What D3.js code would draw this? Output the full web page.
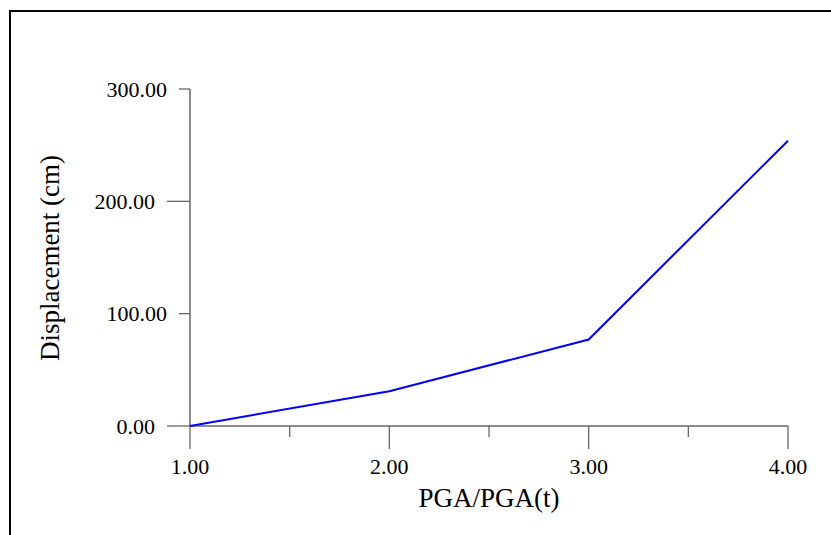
<!DOCTYPE html>
<html>
<head>
<meta charset="utf-8">
<script src="https://cdn.jsdelivr.net/npm/d3@7"></script>
<style>
  body { margin: 0; background: #fff; }
</style>
</head>
<body>
<div id="chart"></div>
<script>
// data
const pga = [1, 2, 3, 4];
const displacement = [0, 31, 77, 254];
const xTicks = [1, 2, 3, 4];
const xMinorTicks = [1.5, 2.5, 3.5];
const yTicks = [0, 200];
const yMinorTicks = [100, 300];
const yLabels = [0, 100, 200, 300];

const width = 831, height = 535;
const svg = d3.select('#chart').append('svg')
  .attr('width', width)
  .attr('height', height);

// frame (top and left edges only visible)
svg.append('path')
  .attr('d', `M10,${height} L10,11 L${width},11`)
  .attr('fill', 'none')
  .attr('stroke', '#000')
  .attr('stroke-width', 2);

const x = d3.scaleLinear().domain([1, 4]).range([190, 788]);
const y = d3.scaleLinear().domain([0, 300]).range([426, 89]);

const axisColor = '#666';
const font = '"Liberation Serif", "Times New Roman", serif';
const majorLen = 23, minorLen = 11;

// axis lines
svg.append('line')
  .attr('x1', x(1)).attr('x2', x(4))
  .attr('y1', y(0)).attr('y2', y(0))
  .attr('stroke', axisColor).attr('stroke-width', 1.5);
svg.append('line')
  .attr('x1', x(1)).attr('x2', x(1))
  .attr('y1', y(300)).attr('y2', y(0))
  .attr('stroke', axisColor).attr('stroke-width', 1.5);

// x ticks
svg.selectAll('.xmaj').data(xTicks).enter().append('line')
  .attr('x1', d => x(d)).attr('x2', d => x(d))
  .attr('y1', y(0)).attr('y2', y(0) + majorLen)
  .attr('stroke', axisColor).attr('stroke-width', 1.3);
svg.selectAll('.xmin').data(xMinorTicks).enter().append('line')
  .attr('x1', d => x(d)).attr('x2', d => x(d))
  .attr('y1', y(0)).attr('y2', y(0) + minorLen)
  .attr('stroke', axisColor).attr('stroke-width', 1.3);

// y ticks
svg.selectAll('.ymaj').data(yTicks).enter().append('line')
  .attr('x1', x(1) - majorLen).attr('x2', x(1))
  .attr('y1', d => y(d)).attr('y2', d => y(d))
  .attr('stroke', axisColor).attr('stroke-width', 1.3);
svg.selectAll('.ymin').data(yMinorTicks).enter().append('line')
  .attr('x1', x(1) - minorLen).attr('x2', x(1))
  .attr('y1', d => y(d)).attr('y2', d => y(d))
  .attr('stroke', axisColor).attr('stroke-width', 1.3);

// tick labels
svg.selectAll('.xlab').data(xTicks).enter().append('text')
  .attr('x', d => x(d))
  .attr('y', 466)
  .attr('dy', '0.35em')
  .attr('text-anchor', 'middle')
  .style('font-family', font)
  .style('font-size', '22px')
  .text(d => d3.format('.2f')(d));

// labels sit just left of each tick's outer end
svg.selectAll('.ylab').data(yLabels).enter().append('text')
  .attr('x', d => x(1) - (yTicks.includes(d) ? majorLen : minorLen) - 12)
  .attr('y', d => y(d))
  .attr('dy', '0.35em')
  .attr('text-anchor', 'end')
  .style('font-family', font)
  .style('font-size', '22px')
  .text(d => d3.format('.2f')(d));

// axis titles
svg.append('text')
  .attr('x', 489)
  .attr('y', 498)
  .attr('dy', '0.35em')
  .attr('text-anchor', 'middle')
  .style('font-family', font)
  .style('font-size', '27px')
  .text('PGA/PGA(t)');

svg.append('text')
  .attr('transform', `translate(50,258) rotate(-90)`)
  .attr('dy', '0.35em')
  .attr('text-anchor', 'middle')
  .style('font-family', font)
  .style('font-size', '27px')
  .text('Displacement (cm)');

// data line
const line = d3.line()
  .x((d, i) => x(pga[i]))
  .y(d => y(d));

svg.append('path')
  .datum(displacement)
  .attr('d', line)
  .attr('fill', 'none')
  .attr('stroke', '#0000ff')
  .attr('stroke-width', 2);
</script>
</body>
</html>
